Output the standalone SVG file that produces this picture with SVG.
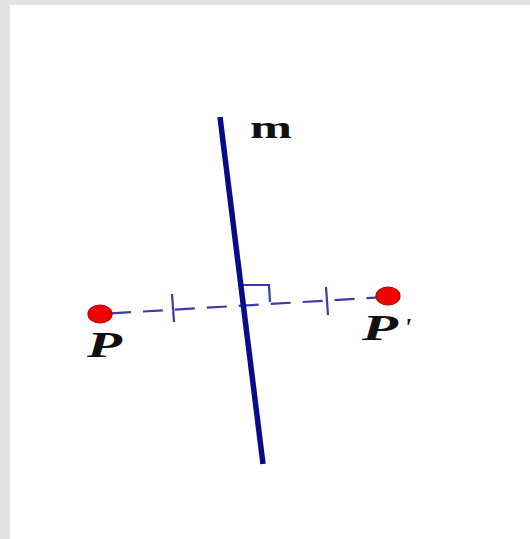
<svg xmlns="http://www.w3.org/2000/svg" width="530" height="539" viewBox="0 0 530 539">
<style>
.lbl{font-family:"Liberation Serif","DejaVu Serif",serif;font-weight:bold;fill:#111}
.dash{stroke:#3a3aa8;stroke-width:2.2;fill:none}
.pt{fill:#f00000;stroke:#b00000;stroke-width:1.2}
</style>
<rect width="530" height="539" fill="#e2e2e2"/>
<rect x="10" y="5" width="520" height="534" fill="#ffffff"/>
<g id="connectors">
<line class="dash" x1="101" y1="314" x2="387" y2="297" stroke-dasharray="20 12" stroke-dashoffset="-10"/>
<line class="dash" x1="172" y1="294" x2="174" y2="322"/>
<line class="dash" x1="326" y1="287" x2="328" y2="315"/>
<polyline class="dash" points="241,285 269,285 270,302"/>
</g>
<g id="m">
<line x1="220" y1="117" x2="263" y2="464" stroke="#0a0a8c" stroke-width="5.5"/>
<text class="lbl" x="250" y="138" font-size="32" textLength="42" lengthAdjust="spacingAndGlyphs">m</text>
</g>
<g id="P">
<ellipse class="pt" cx="100" cy="314" rx="12" ry="9"/>
<text class="lbl" x="87" y="357" font-size="35" font-style="italic" textLength="35" lengthAdjust="spacingAndGlyphs">P</text>
</g>
<g id="P2">
<ellipse class="pt" cx="388" cy="296" rx="12" ry="9"/>
<text class="lbl" x="362" y="340" font-size="35" font-style="italic" textLength="36" lengthAdjust="spacingAndGlyphs">P</text>
<text class="lbl" x="404" y="336" font-size="26" font-style="italic">'</text>
</g>
</svg>
